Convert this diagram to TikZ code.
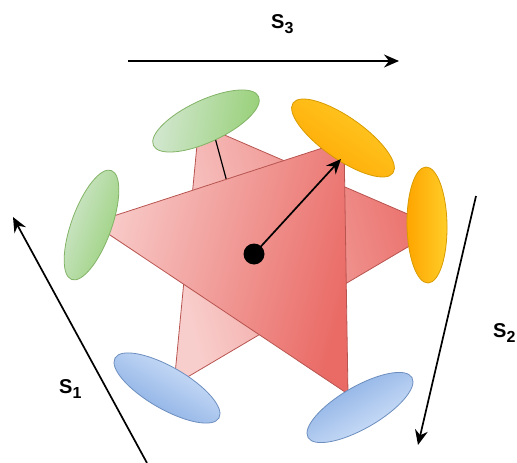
\documentclass[tikz,border=0pt]{standalone}
\usepackage{fontspec}
\setmainfont{Liberation Sans}
\usetikzlibrary{shapes.geometric,arrows.meta}
\definecolor{tril}{HTML}{F8CECC}
\definecolor{trim}{HTML}{EA6B66}
\definecolor{trid}{HTML}{B85450}
\definecolor{grl}{HTML}{D5E8D4}
\definecolor{grm}{HTML}{97D077}
\definecolor{grd}{HTML}{82B366}
\definecolor{orl}{HTML}{FFCD28}
\definecolor{orm}{HTML}{FFA500}
\definecolor{ord}{HTML}{D79B00}
\definecolor{bll}{HTML}{DAE8FC}
\definecolor{blm}{HTML}{7EA6E0}
\definecolor{bld}{HTML}{6C8EBF}
\begin{document}
\begin{tikzpicture}[x=1pt,y=-1pt,
  tri/.style={draw=trid, line width=0.8pt, top color=tril, bottom color=trim},
  ell/.style={ellipse, inner sep=0pt, line width=0.8pt},
  green/.style={ell, draw=grd, top color=grl, bottom color=grm},
  orange/.style={ell, draw=ord, top color=orl, bottom color=orm},
  blue/.style={ell, draw=bld, top color=bll, bottom color=blm},
  arr/.style={line width=1.7pt, -{Stealth[length=15pt,width=13pt,inset=5pt]}},
  lbl/.style={inner sep=0pt, anchor=base west, font=\bfseries\fontsize{20}{24}\selectfont}]
\useasboundingbox (0,0) rectangle (517,463);
% back triangle
\path[tri, shading angle=105] (199,124) -- (440,228) -- (174,385) -- cycle;
% short line
\coordinate (la) at (214,134);
\coordinate (lb) at (227,182);
\draw[line width=1.2pt] (la) -- (lb);
% front triangle
\path[tri, shading angle=75] (92,223) -- (344,141) -- (348,394) -- cycle;
% ellipses
\node[green, minimum width=116pt, minimum height=40pt, rotate=70, shading angle=70] (gl) at (91.5,225) {};
\node[green, minimum width=116pt, minimum height=42pt, rotate=25, shading angle=80] (gt) at (206,121) {};
\node[orange, minimum width=122pt, minimum height=42pt, rotate=-35, shading angle=-35] (ot) at (343,138) {};
\node[orange, minimum width=116pt, minimum height=40pt, rotate=91, shading angle=-90] (or) at (427,225) {};
\node[blue, minimum width=120pt, minimum height=42pt, rotate=-30, shading angle=-30] (bl) at (167,388) {};
\node[blue, minimum width=120pt, minimum height=42pt, rotate=30, shading angle=-150] (br) at (360,407.5) {};
% centre arrow
\coordinate (ctip) at (341,159);
\node[circle, fill=black, minimum size=21pt, inner sep=0pt] (dot) at (254,254) {};
\draw[arr] (dot.center) -- (ctip);
% direction arrows
\coordinate (s3a) at (128,61);
\coordinate (s3b) at (399,61);
\draw[arr] (s3a) -- (s3b);
\coordinate (s2a) at (476,196);
\coordinate (s2b) at (418,445);
\draw[arr] (s2a) -- (s2b);
\coordinate (s1a) at (147,463);
\coordinate (s1b) at (13,217);
\draw[arr] (s1a) -- (s1b);
% labels
\node[lbl] (l3) at (271,28) {S\raisebox{-5pt}{\fontsize{16}{18}\selectfont 3}};
\node[lbl] (l2) at (493,337) {S\raisebox{-5pt}{\fontsize{16}{18}\selectfont 2}};
\node[lbl] (l1) at (59,393) {S\raisebox{-5pt}{\fontsize{16}{18}\selectfont 1}};
\end{tikzpicture}
\end{document}
